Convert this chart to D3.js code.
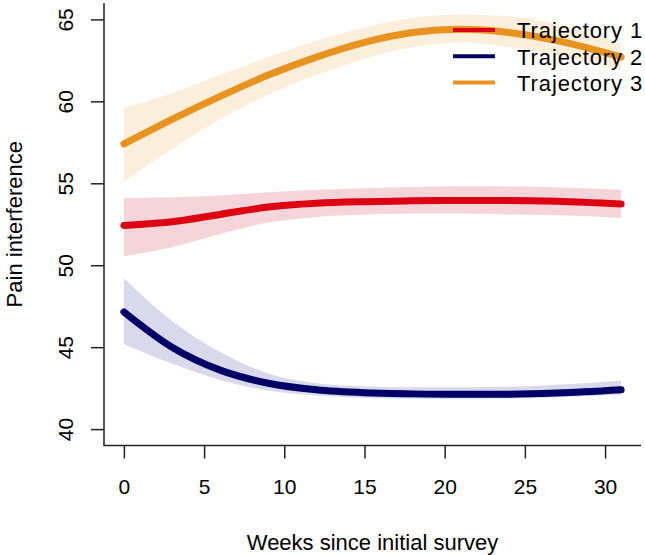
<!DOCTYPE html>
<html>
<head>
<meta charset="utf-8">
<script src="https://cdn.jsdelivr.net/npm/d3@7"></script>
<style>
  body { margin:0; background:#fff; }
  svg text { font-family:"Liberation Sans", Arial, sans-serif; fill:#000; }
</style>
</head>
<body>
<svg id="chart"></svg>
<script>
const weeks = [0, 3, 6, 9, 12, 15, 18, 21, 24, 27, 31];

const traj1Mean  = [52.43, 52.65, 53.1, 53.55, 53.78, 53.88, 53.93, 53.95, 53.95, 53.9, 53.73];
const traj1Upper = [54.1, 54.15, 54.25, 54.45, 54.6, 54.7, 54.78, 54.82, 54.8, 54.75, 54.6];
const traj1Lower = [50.55, 51.1, 51.9, 52.6, 52.95, 53.1, 53.15, 53.15, 53.1, 53.05, 52.9];

const traj2Mean  = [47.15, 45.0, 43.6, 42.8, 42.4, 42.22, 42.15, 42.12, 42.13, 42.2, 42.4];
const traj2Upper = [49.2, 46.6, 44.7, 43.4, 42.8, 42.6, 42.55, 42.55, 42.58, 42.7, 42.97];
const traj2Lower = [45.2, 44.0, 43.0, 42.35, 42.05, 41.9, 41.85, 41.85, 41.87, 41.95, 42.1];

const traj3Mean  = [57.4, 58.9, 60.3, 61.6, 62.7, 63.6, 64.2, 64.4, 64.2, 63.7, 62.7];
const traj3Upper = [59.6, 60.5, 61.6, 62.7, 63.7, 64.5, 65.1, 65.3, 65.2, 64.7, 63.5];
const traj3Lower = [55.1, 57.1, 58.9, 60.4, 61.6, 62.6, 63.3, 63.6, 63.3, 62.8, 61.9];

const seriesNames = ["Trajectory 1", "Trajectory 2", "Trajectory 3"];
const xTicks = [0, 5, 10, 15, 20, 25, 30];
const yTicks = [40, 45, 50, 55, 60, 65];

const LINE = ["#dc0012", "#000066", "#e8921f"];
const BAND = ["#f5d5da", "#d9d9eb", "#fbeedb"];

const W = 645;
const H = 555;

const svg = d3.select("#chart")
  .attr("width",W)
  .attr("height",H)
  .attr("viewBox",`0 0 ${W} ${H}`);

const x = d3.scaleLinear()
  .domain([-1.24,32.24])
  .range([104,641]);

const y = d3.scaleLinear()
  .domain([39,66])
  .range([445.5,3]);

const series = [
  {mean:traj1Mean, upper:traj1Upper, lower:traj1Lower},
  {mean:traj2Mean, upper:traj2Upper, lower:traj2Lower},
  {mean:traj3Mean, upper:traj3Upper, lower:traj3Lower}
];

const area = d3.area()
  .x(d=>x(d.w))
  .y0(d=>y(d.lo))
  .y1(d=>y(d.hi))
  .curve(d3.curveMonotoneX);

const line = d3.line()
  .x(d=>x(d.w))
  .y(d=>y(d.v))
  .curve(d3.curveMonotoneX);

// bands first, then the mean lines on top
series.forEach((s,i)=>{
  const pts = weeks.map((w,j)=>({w:w, lo:s.lower[j], hi:s.upper[j]}));
  svg.append("path")
    .attr("d",area(pts))
    .attr("fill",BAND[i]);
});

series.forEach((s,i)=>{
  const pts = weeks.map((w,j)=>({w:w, v:s.mean[j]}));
  svg.append("path")
    .attr("d",line(pts))
    .attr("fill","none")
    .attr("stroke",LINE[i])
    .attr("stroke-width",7)
    .attr("stroke-linecap","round")
    .attr("stroke-linejoin","round");
});

// L-shaped box
svg.append("path")
  .attr("d",`M${x.range()[0]},${y.range()[1]}V${y.range()[0]}H${x.range()[1]}`)
  .attr("fill","none")
  .attr("stroke","#222")
  .attr("stroke-width",1.5);

const xAxis = svg.append("g")
  .attr("transform",`translate(0,${y.range()[0]})`)
  .call(
    d3.axisBottom(x)
      .tickValues(xTicks)
      .tickSize(13)
      .tickSizeOuter(0)
      .tickPadding(21)
  );
xAxis.select(".domain").remove();
xAxis.selectAll("line").attr("stroke","#222").attr("stroke-width",1.5);
xAxis.selectAll("text")
  .attr("font-size",21)
  .attr("font-family","Liberation Sans, Arial, sans-serif")
  .attr("fill","#000");

const yAxis = svg.append("g")
  .attr("transform",`translate(${x.range()[0]},0)`)
  .call(
    d3.axisLeft(y)
      .tickValues(yTicks)
      .tickSize(13)
      .tickSizeOuter(0)
  );
yAxis.select(".domain").remove();
yAxis.selectAll("line").attr("stroke","#222").attr("stroke-width",1.5);
yAxis.selectAll("text")
  .attr("x",null)
  .attr("dy",null)
  .attr("text-anchor","middle")
  .attr("transform","translate(-31,0) rotate(-90)")
  .attr("font-size",21)
  .attr("font-family","Liberation Sans, Arial, sans-serif")
  .attr("fill","#000");

svg.append("text")
  .attr("x",(x.range()[0]+x.range()[1])/2)
  .attr("y",550)
  .attr("text-anchor","middle")
  .attr("font-size",22)
  .text("Weeks since initial survey");

svg.append("text")
  .attr("transform",`translate(22,${(y.range()[0]+y.range()[1])/2}) rotate(-90)`)
  .attr("text-anchor","middle")
  .attr("font-size",22)
  .text("Pain interference");

// legend, no frame
const legend = svg.append("g");
seriesNames.forEach((name,i)=>{
  const ly = 30 + i*26.3;
  legend.append("line")
    .attr("x1",453)
    .attr("x2",495)
    .attr("y1",ly)
    .attr("y2",ly)
    .attr("stroke",LINE[i])
    .attr("stroke-width",4);
  legend.append("text")
    .attr("x",517)
    .attr("y",ly+8.3)
    .attr("font-size",22)
    .attr("letter-spacing",0.9)
    .text(name);
});
</script>
</body>
</html>
